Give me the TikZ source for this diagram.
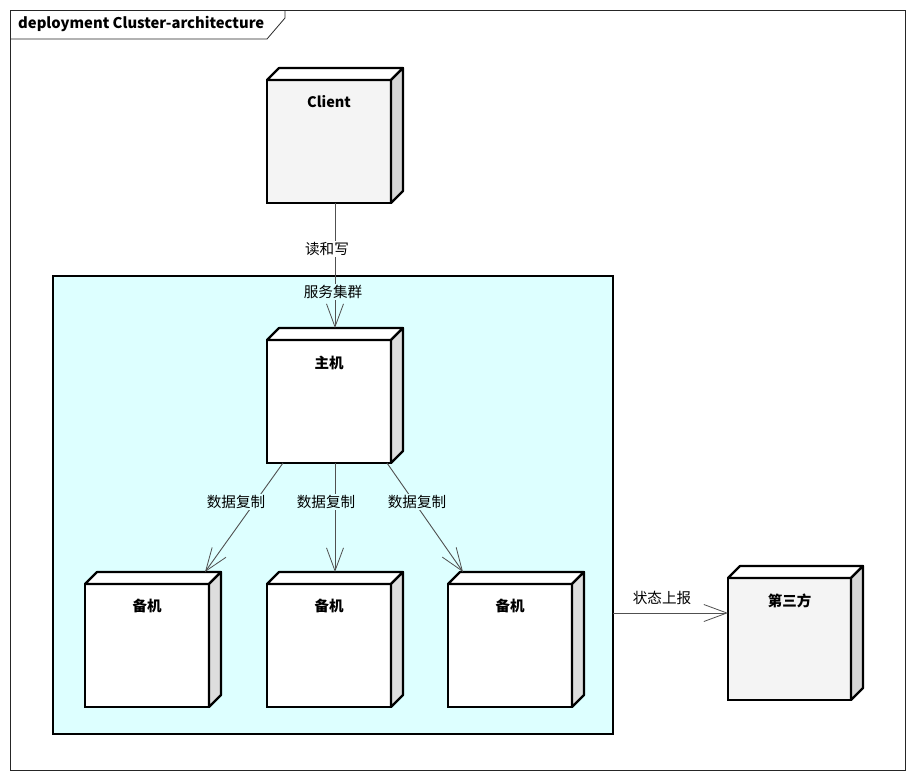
\documentclass[tikz,border=0pt]{standalone}
\usepackage{fontspec}
\setmainfont{Noto Sans CJK SC}
\usetikzlibrary{arrows.meta,calc}
\definecolor{clusterfill}{RGB}{221,255,255}
\definecolor{greyface}{RGB}{244,244,244}
\definecolor{sidegrey}{RGB}{214,214,214}
\definecolor{sidelight}{RGB}{221,221,221}
\definecolor{linegrey}{RGB}{80,80,80}
\newcommand\depthparts[3]{%
  \draw[line width=2.2pt, line join=round, fill=#2] (#1.north west) -- ++(12,-12) -- ($(#1.north east)+(12,-12)$) -- (#1.north east) -- cycle;
  \draw[line width=2.2pt, line join=round, fill=#3] (#1.north east) -- ($(#1.north east)+(12,-12)$) -- ($(#1.south east)+(12,-12)$) -- (#1.south east) -- cycle;
}
\begin{document}
\begin{tikzpicture}[x=1pt,y=-1pt,
  face/.style={draw=black, line width=2.2pt, minimum width=124pt, minimum height=123pt,
    inner sep=0pt, outer sep=0pt, anchor=north west},
  nlabel/.style={font=\fontsize{14.5}{16}\selectfont\bfseries},
  elabel/.style={font=\fontsize{14.6}{16}\selectfont, inner sep=1.5pt},
  conn/.style={draw=linegrey, line width=0.9pt, -{Straight Barb[length=23pt,width=17pt,line width=0.8pt]}},
]
\useasboundingbox[fill=white] (0,0) rectangle (915,779);
% outer frame
\node[draw=black!85, line width=0.8pt, minimum width=895pt, minimum height=760pt, inner sep=0pt, outer sep=0pt, anchor=north west] (frame) at (10,10) {};
\draw[black!85, line width=0.8pt] (10,39) -- (267,39) -- (285,18) -- (285,10);
\node[anchor=west, font=\fontsize{14.8}{16}\selectfont\bfseries, inner sep=0pt] (title) at (18,24) {deployment Cluster-architecture};
% cluster
\node[draw=black, line width=2.2pt, fill=clusterfill, minimum width=560pt, minimum height=458pt, inner sep=0pt, outer sep=0pt, anchor=north west] (cluster) at (53,276) {};
% Client
\node[face, fill=greyface, label={[nlabel, anchor=center, yshift=-22pt]north:Client}] (client) at (267,80) {};
\depthparts{client}{white}{sidegrey}
% main
\node[face, fill=white, label={[nlabel, anchor=center, yshift=-23pt]north:主机}] (main) at (267,340) {};
\depthparts{main}{white}{sidelight}
% backups
\node[face, fill=white, label={[nlabel, anchor=center, yshift=-22pt]north:备机}] (b1) at (85,584) {};
\depthparts{b1}{white}{sidelight}
\node[face, fill=white, label={[nlabel, anchor=center, yshift=-22pt]north:备机}] (b2) at (267,584) {};
\depthparts{b2}{white}{sidelight}
\node[face, fill=white, label={[nlabel, anchor=center, yshift=-22pt]north:备机}] (b3) at (448,584) {};
\depthparts{b3}{white}{sidelight}
% third party
\node[face, fill=greyface, minimum width=123pt, minimum height=122pt, label={[nlabel, anchor=center, yshift=-23pt]north:第三方}] (third) at (728,578) {};
\depthparts{third}{white}{sidegrey}
% connectors
\draw[conn] ($(client.south)+(6,0)$) -- ($(main.north)+(6,-12)$);
\node[elabel, fill=white] (lrw) at (327,249) {读和写};
\node[elabel, fill=clusterfill] (lcluster) at (333,292) {服务集群};
\draw[conn] ($(main.south west)+(16,0)$) -- ($(b1.north east)+(-4,-12)$);
\draw[conn] ($(main.south)+(6,0)$) -- ($(b2.north)+(6,-12)$);
\draw[conn] ($(main.south east)+(-4,0)$) -- ($(b3.north west)+(15,-12)$);
\node[elabel, fill=clusterfill] (lr1) at (236,502) {数据复制};
\node[elabel, fill=clusterfill] (lr2) at (326,502) {数据复制};
\node[elabel, fill=clusterfill] (lr3) at (417,502) {数据复制};
\coordinate (rs) at ($(cluster.north east)+(0,337)$);
\draw[conn] (rs) -- (rs -| third.west);
\node[elabel] (lrep) at (662,598) {状态上报};
\end{tikzpicture}
\end{document}
